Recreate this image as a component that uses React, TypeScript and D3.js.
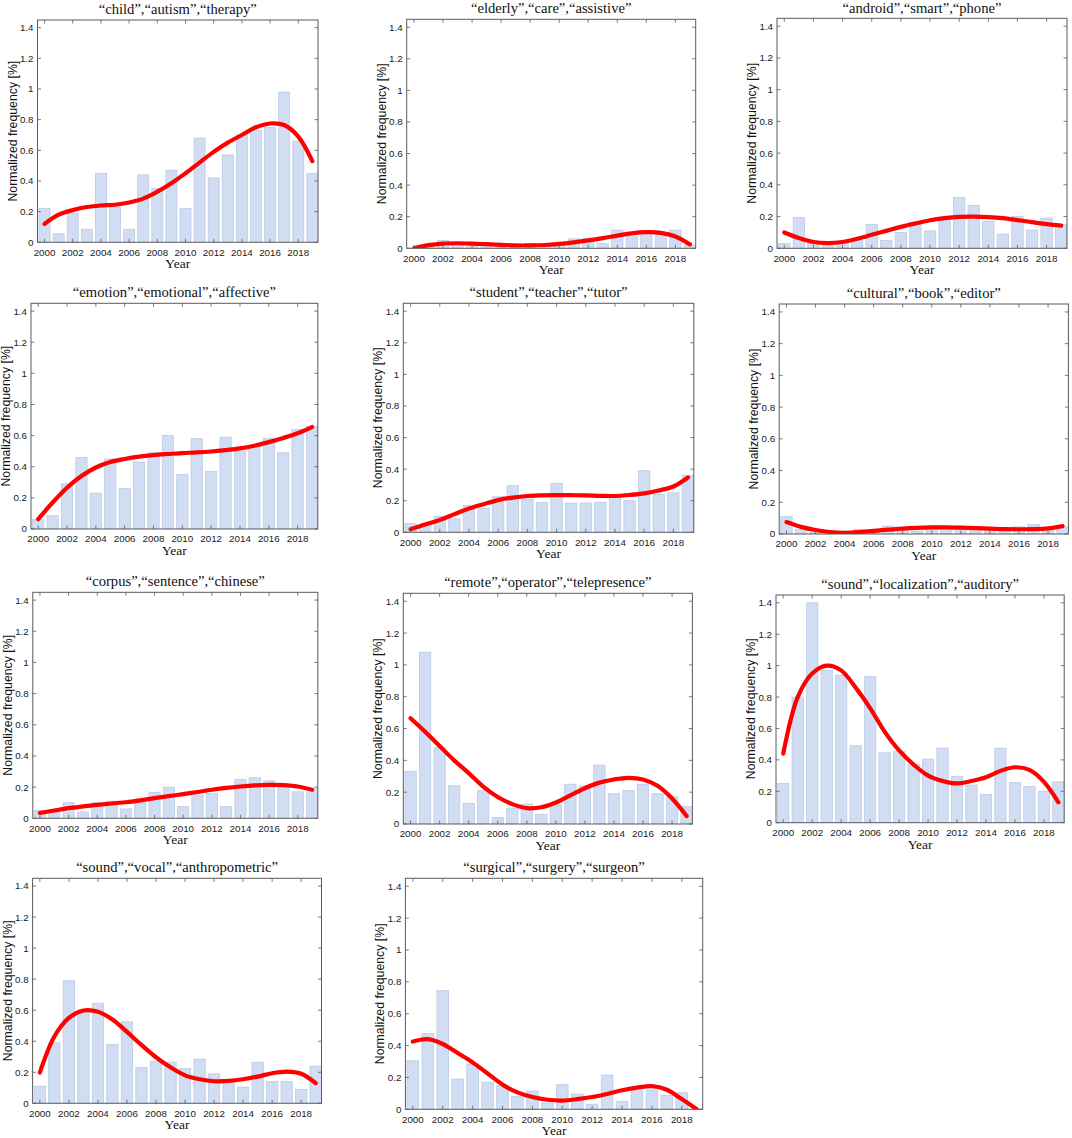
import React from "react";
import * as d3 from "d3";

const YEARS = d3.range(2000, 2020);
const X_TICKS = d3.range(2000, 2019, 2);
const Y_TICKS = [0, 0.2, 0.4, 0.6, 0.8, 1, 1.2, 1.4];

const TITLES = [
  "“child”,“autism”,“therapy”",
  "“elderly”,“care”,“assistive”",
  "“android”,“smart”,“phone”",
  "“emotion”,“emotional”,“affective”",
  "“student”,“teacher”,“tutor”",
  "“cultural”,“book”,“editor”",
  "“corpus”,“sentence”,“chinese”",
  "“remote”,“operator”,“telepresence”",
  "“sound”,“localization”,“auditory”",
  "“sound”,“vocal”,“anthropometric”",
  "“surgical”,“surgery”,“surgeon”",
];

const childBars = [0.22, 0.055, 0.19, 0.085, 0.45, 0.23, 0.085, 0.44, 0.35, 0.47, 0.22, 0.68, 0.42, 0.57, 0.7, 0.73, 0.75, 0.98, 0.66, 0.45];
const childFit = [0.12, 0.18, 0.21, 0.23, 0.24, 0.245, 0.26, 0.285, 0.33, 0.385, 0.45, 0.52, 0.59, 0.65, 0.7, 0.75, 0.775, 0.765, 0.69, 0.53];

const elderlyBars = [0.0, 0.01, 0.05, 0.03, 0.03, 0.02, 0.02, 0.01, 0.03, 0.02, 0.03, 0.06, 0.06, 0.03, 0.115, 0.075, 0.1, 0.09, 0.115, 0.02];
const elderlyFit = [0.0, 0.02, 0.03, 0.032, 0.03, 0.026, 0.022, 0.018, 0.018, 0.021, 0.028, 0.038, 0.05, 0.064, 0.08, 0.095, 0.102, 0.098, 0.075, 0.025];

const androidBars = [0.03, 0.195, 0.04, 0.03, 0.03, 0.05, 0.15, 0.05, 0.1, 0.16, 0.11, 0.19, 0.32, 0.27, 0.17, 0.09, 0.2, 0.115, 0.19, 0.15];
const androidFit = [0.1, 0.065, 0.04, 0.033, 0.04, 0.06, 0.085, 0.11, 0.135, 0.157, 0.177, 0.19, 0.198, 0.2, 0.197, 0.19, 0.178, 0.165, 0.152, 0.143];

const emotionBars = [0.06, 0.085, 0.29, 0.46, 0.23, 0.45, 0.26, 0.43, 0.49, 0.6, 0.35, 0.58, 0.37, 0.59, 0.5, 0.53, 0.58, 0.49, 0.64, 0.66];
const emotionFit = [0.063, 0.17, 0.265, 0.34, 0.395, 0.43, 0.45, 0.465, 0.475, 0.482, 0.488, 0.492, 0.498, 0.507, 0.518, 0.535, 0.558, 0.585, 0.615, 0.655];

const studentBars = [0.055, 0.05, 0.1, 0.085, 0.17, 0.15, 0.225, 0.295, 0.21, 0.19, 0.31, 0.185, 0.185, 0.19, 0.23, 0.2, 0.39, 0.24, 0.25, 0.36];
const studentFit = [0.02, 0.05, 0.078, 0.115, 0.15, 0.178, 0.204, 0.22, 0.23, 0.234, 0.236, 0.235, 0.234, 0.231, 0.23, 0.236, 0.246, 0.265, 0.29, 0.347];

const culturalBars = [0.11, 0.03, 0.01, 0.0, 0.005, 0.03, 0.02, 0.05, 0.03, 0.015, 0.03, 0.04, 0.04, 0.02, 0.03, 0.03, 0.045, 0.06, 0.04, 0.045];
const culturalFit = [0.075, 0.045, 0.025, 0.012, 0.008, 0.012, 0.02, 0.027, 0.034, 0.039, 0.042, 0.042, 0.04, 0.037, 0.034, 0.031, 0.03, 0.031, 0.036, 0.05];

const corpusBars = [0.05, 0.04, 0.1, 0.04, 0.1, 0.11, 0.06, 0.1, 0.165, 0.2, 0.075, 0.15, 0.16, 0.075, 0.25, 0.26, 0.24, 0.21, 0.17, 0.19];
const corpusFit = [0.034, 0.05, 0.065, 0.076, 0.086, 0.095, 0.103, 0.115, 0.129, 0.142, 0.155, 0.169, 0.183, 0.195, 0.204, 0.211, 0.215, 0.213, 0.204, 0.183];

const remoteBars = [0.33, 1.08, 0.48, 0.24, 0.13, 0.21, 0.04, 0.1, 0.125, 0.06, 0.12, 0.25, 0.24, 0.37, 0.19, 0.21, 0.25, 0.19, 0.17, 0.11];
const remoteFit = [0.665, 0.58, 0.49, 0.4, 0.32, 0.235, 0.17, 0.125, 0.1, 0.105, 0.135, 0.18, 0.225, 0.26, 0.28, 0.29, 0.28, 0.24, 0.16, 0.05];

const localizationBars = [0.25, 0.8, 1.4, 0.97, 0.94, 0.49, 0.93, 0.445, 0.455, 0.37, 0.405, 0.475, 0.295, 0.24, 0.18, 0.475, 0.255, 0.23, 0.2, 0.26];
const localizationFit = [0.44, 0.8, 0.95, 1.0, 0.97, 0.86, 0.73, 0.58, 0.46, 0.37, 0.3, 0.266, 0.25, 0.266, 0.29, 0.33, 0.353, 0.336, 0.26, 0.13];

const vocalBars = [0.11, 0.39, 0.79, 0.6, 0.645, 0.38, 0.525, 0.23, 0.27, 0.265, 0.225, 0.285, 0.19, 0.14, 0.105, 0.265, 0.14, 0.14, 0.09, 0.24];
const vocalFit = [0.198, 0.43, 0.55, 0.598, 0.59, 0.54, 0.46, 0.376, 0.297, 0.232, 0.18, 0.155, 0.142, 0.144, 0.155, 0.172, 0.194, 0.204, 0.19, 0.13];

const surgicalBars = [0.305, 0.475, 0.745, 0.19, 0.285, 0.17, 0.15, 0.08, 0.115, 0.04, 0.155, 0.095, 0.032, 0.215, 0.048, 0.12, 0.12, 0.087, 0.104, 0.0];
const surgicalFit = [0.425, 0.44, 0.41, 0.353, 0.294, 0.225, 0.155, 0.106, 0.077, 0.06, 0.055, 0.064, 0.077, 0.096, 0.12, 0.136, 0.145, 0.123, 0.064, 0.0];

const BARS = [childBars, elderlyBars, androidBars, emotionBars, studentBars, culturalBars, corpusBars, remoteBars, localizationBars, vocalBars, surgicalBars];
const FITS = [childFit, elderlyFit, androidFit, emotionFit, studentFit, culturalFit, corpusFit, remoteFit, localizationFit, vocalFit, surgicalFit];

// plot-area boxes [left, top, right, bottom] in page pixels
const BOXES = [
  [37.5, 20, 318, 242.3],
  [406.7, 19.3, 695.7, 248.3],
  [777, 18.3, 1067, 248.3],
  [31, 303.3, 317.8, 529],
  [403.3, 303.3, 693.8, 532.3],
  [779.2, 304, 1068.4, 534],
  [32.8, 592.3, 317.8, 818.3],
  [403.3, 593.3, 692.4, 824],
  [776, 595, 1064.2, 822.7],
  [32.6, 878.3, 321.5, 1103.3],
  [405.4, 878.3, 702.7, 1109.3],
];

const X_DOMAIN = [1999.5, 2019.4];
const Y_DOMAIN = [0, 1.45];
const BAR_FILL = "#d0ddf3";
const BAR_STROKE = "#bccbe5";
const FRAME = "#5a5a5a";
const SANS = "'Liberation Sans', Arial, Helvetica, sans-serif";
const SERIF = "'Liberation Serif', 'Times New Roman', Times, serif";

function Panel({ idx }: { idx: number }) {
  const [x0, y0, x1, y1] = BOXES[idx];
  const x = d3.scaleLinear().domain(X_DOMAIN).range([x0, x1]);
  const y = d3.scaleLinear().domain(Y_DOMAIN).range([y1, y0]);
  const bw = (x(2001) - x(2000)) * 0.78;
  const pts: [number, number][] = YEARS.map((yr, i) => [yr, FITS[idx][i]]);
  const line = d3
    .line<[number, number]>()
    .x((d) => x(d[0]))
    .y((d) => y(d[1]))
    .curve(d3.curveCatmullRom.alpha(0.5));
  const clipId = `clip-${idx}`;
  const tl = 3.5;
  return (
    <g>
      <defs>
        <clipPath id={clipId}>
          <rect x={x0} y={y0} width={x1 - x0} height={y1 - y0} />
        </clipPath>
      </defs>
      <g clipPath={`url(#${clipId})`}>
        {YEARS.map((yr, i) => (
          <rect
            key={yr}
            x={x(yr) - bw / 2}
            y={y(BARS[idx][i])}
            width={bw}
            height={Math.max(0, y(0) - y(BARS[idx][i]))}
            fill={BAR_FILL}
            stroke={BAR_STROKE}
            strokeWidth={0.8}
          />
        ))}
        <path d={line(pts) || ""} fill="none" stroke="#ff0000" strokeWidth={4.2} strokeLinecap="round" />
      </g>
      <rect x={x0} y={y0} width={x1 - x0} height={y1 - y0} fill="none" stroke={FRAME} strokeWidth={1} />
      {X_TICKS.map((t) => (
        <g key={t}>
          <line x1={x(t)} x2={x(t)} y1={y1} y2={y1 - tl} stroke={FRAME} strokeWidth={0.8} />
          <line x1={x(t)} x2={x(t)} y1={y0} y2={y0 + tl} stroke={FRAME} strokeWidth={0.8} />
          <text x={x(t)} y={y1 + 13.3} textAnchor="middle" fontFamily={SANS} fontSize={9.8} fill="#1a1a1a">
            {t}
          </text>
        </g>
      ))}
      {Y_TICKS.map((t) => (
        <g key={t}>
          <line x1={x0} x2={x0 + tl} y1={y(t)} y2={y(t)} stroke={FRAME} strokeWidth={0.8} />
          <line x1={x1} x2={x1 - tl} y1={y(t)} y2={y(t)} stroke={FRAME} strokeWidth={0.8} />
          <text x={x0 - 4} y={y(t)} dy="0.35em" textAnchor="end" fontFamily={SANS} fontSize={9.8} fill="#1a1a1a">
            {String(t)}
          </text>
        </g>
      ))}
      <text x={(x0 + x1) / 2} y={Math.max(y0 - 6.5, 13)} textAnchor="middle" fontFamily={SERIF} fontSize={14.6} fill="#111">
        {TITLES[idx]}
      </text>
      <text x={(x0 + x1) / 2} y={y1 + 26} textAnchor="middle" fontFamily={SERIF} fontSize={13.5} fill="#111">
        Year
      </text>
      <text
        transform={`translate(${x0 - 21},${(y0 + y1) / 2}) rotate(-90)`}
        textAnchor="middle"
        fontFamily={SANS}
        fontSize={12.3}
        fill="#111"
      >
        Normalized frequency [%]
      </text>
    </g>
  );
}

export default function App() {
  return (
    <div style={{ position: "absolute", left: 0, top: 0 }}>
      <svg width={1072} height={1138} viewBox="0 0 1072 1138" style={{ display: "block", background: "#fff" }}>
        <rect width={1072} height={1138} fill="#fff" />
        {TITLES.map((_, i) => (
          <Panel key={i} idx={i} />
        ))}
      </svg>
    </div>
  );
}
